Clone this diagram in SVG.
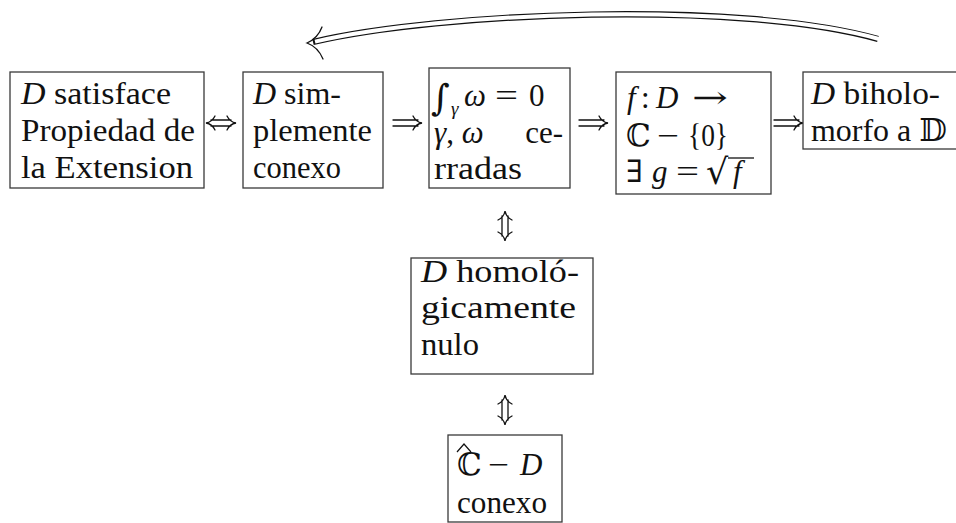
<svg xmlns="http://www.w3.org/2000/svg" width="956" height="523" viewBox="0 0 956 523">
<defs>
<style>
text{font-family:'Liberation Serif','Times New Roman','DejaVu Serif',serif;font-size:31px;fill:#111}
.box{fill:#fff;stroke:#3a3a3a;stroke-width:1.3}
.i{font-style:italic}
.ds{font-family:'DejaVu Serif','DejaVu Sans',sans-serif}
.big{font-size:36px}
.rad{font-size:35px}
.sub{font-size:19px}
.arr{fill:none;stroke:#111;stroke-width:1.3;stroke-linecap:round}
</style>
<g id="imp"><path class="arr" d="M0,-3 H25 M0,3 H25 M20,-7 Q23,-1 29,0 Q23,1 20,7"/></g>
<g id="iff"><path class="arr" d="M5,-3 H25 M5,3 H25 M9,-7 Q6,-1 0,0 Q6,1 9,7 M21,-7 Q24,-1 30,0 Q24,1 21,7"/></g>
</defs>
<rect width="956" height="523" fill="#fff"/>

<g id="connectors">
  <use href="#iff" transform="translate(206,123)"/>
  <use href="#imp" transform="translate(393,123)"/>
  <use href="#imp" transform="translate(579,123)"/>
  <use href="#imp" transform="translate(774,123)"/>
  <use href="#iff" transform="translate(505,211) rotate(90)"/>
  <use href="#iff" transform="translate(505,395) rotate(90)"/>
  <g id="top-arrow">
    <path d="M878,39 C740,0 440,12 313,42" fill="none" stroke="#111" stroke-width="6.4"/>
    <path d="M879,39 C740,0 440,12 315,41.6" fill="none" stroke="#fff" stroke-width="4"/>
    <path class="arr" stroke-width="1.5" d="M322,27 Q318,38 307,43 Q318,47 323,59"/>
  </g>
</g>

<g id="n1">
  <rect class="box" x="10" y="72" width="194" height="116"/>
  <text x="21" y="104" textLength="150" lengthAdjust="spacingAndGlyphs"><tspan class="i">D</tspan> satisface</text>
  <text x="21" y="141" textLength="174" lengthAdjust="spacingAndGlyphs">Propiedad de</text>
  <text x="21" y="178" textLength="172" lengthAdjust="spacingAndGlyphs">la Extension</text>
</g>

<g id="n2">
  <rect class="box" x="243" y="72" width="140" height="116"/>
  <text x="253" y="104" textLength="88" lengthAdjust="spacingAndGlyphs"><tspan class="i">D</tspan> sim-</text>
  <text x="253" y="141" textLength="119" lengthAdjust="spacingAndGlyphs">plemente</text>
  <text x="253" y="178" textLength="88" lengthAdjust="spacingAndGlyphs">conexo</text>
</g>

<g id="n3">
  <rect class="box" x="429" y="68" width="141" height="120"/>
  <text class="ds big" x="431" y="110">∫</text>
  <text class="i sub" x="451" y="115">γ</text>
  <text x="464" y="106" class="i">ω</text>
  <text x="495" y="106" textLength="23" lengthAdjust="spacingAndGlyphs">=</text>
  <text x="529" y="106">0</text>
  <text x="434" y="143"><tspan class="i">γ</tspan>, <tspan class="i">ω</tspan></text>
  <text x="563" y="143" text-anchor="end">ce-</text>
  <text x="434" y="179" textLength="88" lengthAdjust="spacingAndGlyphs">rradas</text>
</g>

<g id="n4">
  <rect class="box" x="616" y="72" width="155" height="122"/>
  <text x="627" y="108" class="i">f</text>
  <text x="641" y="108">:</text>
  <text x="656" y="108" class="i">D</text>
  <text x="692" y="108" class="ds" textLength="36" lengthAdjust="spacingAndGlyphs">→</text>
  <text x="626" y="146" class="ds">ℂ</text>
  <text x="657" y="146" textLength="22" lengthAdjust="spacingAndGlyphs">−</text>
  <text x="688" y="146" textLength="40" lengthAdjust="spacingAndGlyphs">{0}</text>
  <text x="626" y="182" class="ds">∃</text>
  <text x="652" y="182" class="i">g</text>
  <text x="676" y="182" textLength="23" lengthAdjust="spacingAndGlyphs">=</text>
  <text x="706" y="184" class="ds rad">√</text>
  <text x="733" y="182" class="i">f</text>
  <line x1="728" y1="158" x2="754" y2="158" stroke="#111" stroke-width="1.3"/>
</g>

<g id="n5">
  <rect class="box" x="803" y="72" width="160" height="77"/>
  <text x="811" y="104" textLength="129" lengthAdjust="spacingAndGlyphs"><tspan class="i">D</tspan> biholo-</text>
  <text x="811" y="141" textLength="136" lengthAdjust="spacingAndGlyphs">morfo a <tspan class="ds">𝔻</tspan></text>
</g>

<g id="n6">
  <rect class="box" x="411" y="258" width="182" height="116"/>
  <text x="421" y="282" textLength="158" lengthAdjust="spacingAndGlyphs"><tspan class="i">D</tspan> homoló-</text>
  <text x="421" y="318" textLength="155" lengthAdjust="spacingAndGlyphs">gicamente</text>
  <text x="421" y="355" textLength="58" lengthAdjust="spacingAndGlyphs">nulo</text>
</g>

<g id="n7">
  <rect class="box" x="448" y="435" width="114" height="87"/>
  <path d="M457,452 L464,444 L471,452" fill="none" stroke="#111" stroke-width="1.2"/>
  <text x="457" y="475" class="ds">ℂ</text>
  <text x="488" y="475" textLength="21" lengthAdjust="spacingAndGlyphs">−</text>
  <text x="520" y="475" class="i">D</text>
  <text x="457" y="513" textLength="90" lengthAdjust="spacingAndGlyphs">conexo</text>
</g>
</svg>
